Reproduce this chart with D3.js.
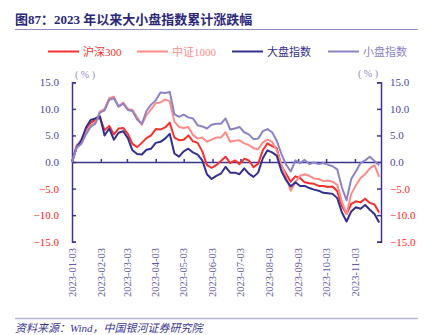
<!DOCTYPE html>
<html>
<head>
<meta charset="utf-8">
<script src="https://cdn.jsdelivr.net/npm/d3@7"></script>
<style>
  body { margin: 0; background: #ffffff; }
  svg text { font-family: "Liberation Serif", "Noto Sans CJK SC", serif; }
</style>
</head>
<body>
<script>

// series names and colours
var seriesNames = ["沪深300", "中证1000", "大盘指数", "小盘指数"];
var seriesColors = ["#f5302e", "#ff8a8a", "#332f8c", "#8a84c4"];

// month labels on the x axis
var monthTicks = ["2023-01-03", "2023-02-03", "2023-03-03", "2023-04-03",
                  "2023-05-03", "2023-06-03", "2023-07-03", "2023-08-03",
                  "2023-09-03", "2023-10-03", "2023-11-03"];

// y tick values (%)
var yTicks = [-15, -10, -5, 0, 5, 10, 15];

// first observation and spacing of observations in days
var startDate = "2023-01-03";
var stepDays = 5;

// cumulative change since the start of 2023 (%)
var hs300 = [0, 2.9, 4.2, 6.0, 7.4, 7.9, 8.3, 6.0, 6.8, 5.2,
             6.3, 6.4, 5.3, 3.4, 2.8, 3.6, 4.5, 5.0, 6.2, 6.1,
             6.5, 7.4, 4.6, 4.1, 4.2, 5.0, 3.9, 3.6, 2.0, -0.6,
             -1.1, -0.6, 0.2, 1.0, -0.2, 0.3, -0.4, 0.6, 0.3, -1.0,
             -0.3, 2.2, 3.5, 3.0, 2.6, -0.7, -2.2, -3.7, -2.7, -3.0,
             -3.8, -4.0, -4.1, -4.5, -4.5, -4.7, -4.6, -5.5, -8.3, -9.8,
             -7.9, -7.4, -7.6, -6.9, -7.7, -8.0, -9.5];

var csi1000 = [0, 3.2, 3.9, 5.7, 6.9, 7.4, 9.5, 10.0, 12.0, 12.3,
               10.5, 11.2, 10.0, 9.8, 8.4, 7.0, 8.8, 9.9, 11.1, 11.2,
               11.8, 11.4, 7.6, 6.6, 6.4, 6.6, 5.1, 4.4, 4.6, 3.8,
               4.2, 4.6, 4.6, 5.6, 3.8, 4.0, 4.1, 3.5, 3.2, 2.6,
               2.4, 3.7, 4.2, 3.8, 2.2, -0.5, -2.8, -5.4, -3.8, -2.6,
               -2.3, -2.6, -3.1, -3.2, -3.6, -3.5, -3.7, -4.3, -7.5, -9.8,
               -6.0, -4.4, -3.0, -2.3, -1.2, -0.6, -2.8];

var largeCap = [0, 2.8, 4.0, 6.5, 7.9, 8.2, 8.6, 5.0, 6.3, 4.2,
                5.5, 5.8, 4.5, 2.2, 1.5, 1.4, 2.3, 2.5, 3.6, 3.8,
                4.4, 5.3, 1.6, 1.0, 2.0, 2.5, 1.8, 1.4, 0.3, -2.3,
                -3.2, -2.6, -2.2, -0.9, -2.0, -2.0, -2.3, -1.2, -2.2, -2.8,
                -2.0, 0.7, 2.2, 1.8, 1.2, -1.7, -3.4, -4.6, -3.8, -4.5,
                -4.5, -4.9, -5.2, -5.4, -5.8, -5.9, -6.0, -6.8, -9.5, -11.2,
                -9.3, -8.5, -8.8, -8.1, -9.0, -9.8, -11.4];

var smallCap = [0, 2.7, 3.4, 5.2, 6.6, 7.2, 9.3, 9.7, 11.7, 12.0,
                10.4, 11.0, 9.8, 9.6, 8.0, 7.2, 9.6, 10.8, 11.6, 13.1,
                13.0, 13.2, 9.0, 8.5, 8.9, 8.4, 8.2, 6.9, 6.7, 6.3,
                7.0, 7.2, 7.2, 8.2, 6.1, 6.3, 6.6, 5.6, 5.2, 4.3,
                4.4, 5.8, 6.2, 5.6, 4.0, 1.5, -0.5, -1.8, 0.3, -0.2,
                0.4, -0.4, -0.1, -0.4, -0.2, -0.5, -0.8, -1.4, -4.8, -7.2,
                -3.2, -1.8, -0.2, 0.3, 1.0, 0.2, -0.6];

var allSeries = [hs300, csi1000, largeCap, smallCap];

// sizes
var w = 435;
var h = 335;
var plotLeft = 72;
var plotRight = 381;
var plotTop = 82.3;
var plotBottom = 241.7;

var navy = "#3a3690";
var lineColor = "#8f8cc4";
var negColor = "#ff2222";

var parseDate = d3.timeParse("%Y-%m-%d");
var start = parseDate(startDate);

var svg = d3.select("body")
            .append("svg")
            .attr("width", w)
            .attr("height", h);

// title and rule under it
svg.append("text")
   .attr("x", 15)
   .attr("y", 24)
   .attr("font-size", "13px")
   .attr("font-weight", "bold")
   .attr("fill", "#2b2878")
   .text("图87：2023 年以来大小盘指数累计涨跌幅");

svg.append("line")
   .attr("x1", 15).attr("x2", 418)
   .attr("y1", 29.5).attr("y2", 29.5)
   .attr("stroke", lineColor)
   .attr("stroke-width", 1);

// legend
var legendX = [48, 137, 232, 328];
for (var n = 0; n < seriesNames.length; n++) {
  svg.append("line")
     .attr("x1", legendX[n]).attr("x2", legendX[n] + 31)
     .attr("y1", 51.5).attr("y2", 51.5)
     .attr("stroke", seriesColors[n])
     .attr("stroke-width", 2);
  svg.append("text")
     .attr("x", legendX[n] + 35)
     .attr("y", 56)
     .attr("font-size", "11px")
     .attr("fill", seriesColors[n])
     .text(seriesNames[n]);
}

// scales
var xScale = d3.scaleTime()
               .domain([parseDate("2023-01-03"), parseDate("2023-12-01")])
               .range([plotLeft, plotRight]);

var yScale = d3.scaleLinear()
               .domain([-15, 15])
               .range([plotBottom, plotTop]);

var fmt = d3.format(".1f");

// unit labels
svg.append("text")
   .attr("x", 85).attr("y", 78)
   .attr("text-anchor", "middle")
   .attr("font-size", "10px")
   .attr("fill", lineColor)
   .text("( % )");

svg.append("text")
   .attr("x", 368).attr("y", 77)
   .attr("text-anchor", "middle")
   .attr("font-size", "10px")
   .attr("fill", lineColor)
   .text("( % )");

// left and right y axes
var yLeft = d3.axisRight(yScale).tickValues(yTicks).tickSize(4).tickFormat("");
var yRight = d3.axisLeft(yScale).tickValues(yTicks).tickSize(4).tickFormat("");

svg.append("g")
   .attr("transform", "translate(" + plotLeft + ",0)")
   .call(yLeft);

svg.append("g")
   .attr("transform", "translate(" + plotRight + ",0)")
   .call(yRight);

svg.selectAll(".domain, .tick line")
   .attr("stroke", navy)
   .attr("stroke-width", 1.5);

// y tick labels on both sides
svg.selectAll(".ylabL")
   .data(yTicks)
   .enter()
   .append("text")
   .attr("class", "ylabL")
   .attr("x", 59)
   .attr("y", function(d) { return yScale(d) + 4; })
   .attr("text-anchor", "end")
   .attr("font-size", "11px")
   .attr("fill", function(d) { return d < 0 ? negColor : "#4a46a0"; })
   .text(function(d) { return fmt(d); });

svg.selectAll(".ylabR")
   .data(yTicks)
   .enter()
   .append("text")
   .attr("class", "ylabR")
   .attr("x", 390)
   .attr("y", function(d) { return yScale(d) + 4; })
   .attr("font-size", "11px")
   .attr("fill", function(d) { return d < 0 ? negColor : "#4a46a0"; })
   .text(function(d) { return fmt(d); });

// zero line with month ticks pointing up
var monthDates = monthTicks.map(parseDate);

var xAxis = d3.axisTop(xScale)
              .tickValues(monthDates)
              .tickSize(3)
              .tickSizeOuter(0)
              .tickFormat("");

var zero = svg.append("g")
              .attr("transform", "translate(0," + yScale(0) + ")")
              .call(xAxis);

zero.selectAll(".domain, .tick line")
    .attr("stroke", navy)
    .attr("stroke-width", 1.5);

// the lines
var line = d3.line()
             .x(function(d, i) { return xScale(d3.timeDay.offset(start, i * stepDays)); })
             .y(function(d) { return yScale(d); });

for (var s = 0; s < allSeries.length; s++) {
  svg.append("path")
     .datum(allSeries[s])
     .attr("d", line)
     .attr("fill", "none")
     .attr("stroke", seriesColors[s])
     .attr("stroke-width", 2)
     .attr("stroke-linejoin", "round");
}

// rotated date labels
svg.selectAll(".xlab")
   .data(monthDates)
   .enter()
   .append("text")
   .attr("class", "xlab")
   .attr("transform", function(d) {
      return "translate(" + (xScale(d) + 3.7) + ",248) rotate(-90)";
   })
   .attr("text-anchor", "end")
   .attr("font-size", "10.5px")
   .attr("fill", "#5e5aa8")
   .text(function(d, i) { return monthTicks[i]; });

// footer
svg.append("line")
   .attr("x1", 15).attr("x2", 418)
   .attr("y1", 318.5).attr("y2", 318.5)
   .attr("stroke", "#b9b7d8")
   .attr("stroke-width", 1.5);

svg.append("text")
   .attr("x", 15)
   .attr("y", 332)
   .attr("font-size", "11px")
   .attr("font-style", "italic")
   .attr("fill", "#3a3690")
   .text("资料来源：Wind，中国银河证券研究院");

</script>
</body>
</html>
